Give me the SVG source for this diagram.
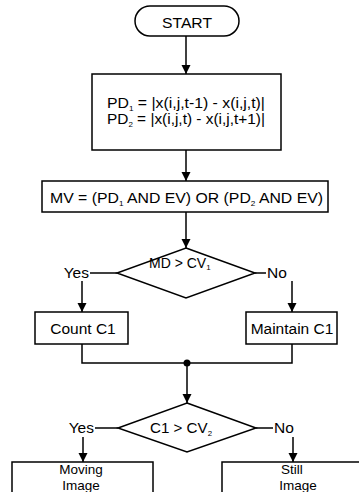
<svg xmlns="http://www.w3.org/2000/svg" width="359" height="492" viewBox="0 0 359 492">
<defs>
<marker id="ah" markerUnits="userSpaceOnUse" markerWidth="10" markerHeight="11" refX="9" refY="5" orient="auto">
<path d="M0,0.5 L9,5 L0,9.5 Z" fill="#000"/>
</marker>
<style>
.s{fill:#fff;stroke:#000;stroke-width:1.5}
.c{fill:none;stroke:#000;stroke-width:1.5}
.a{fill:none;stroke:#000;stroke-width:1.5;marker-end:url(#ah)}
text{font-family:"Liberation Sans",Arial,sans-serif;font-size:15.5px;fill:#000}
.m{text-anchor:middle}
.e{text-anchor:end}
.sub{font-size:8px}
.d{font-size:14px}
.sm{font-size:13.5px}
</style>
</defs>
<rect width="359" height="492" fill="#fff"/>
<g id="connectors">
<line class="a" x1="186" y1="36" x2="186" y2="74"/>
<line class="a" x1="186" y1="150" x2="186" y2="181"/>
<line class="a" x1="186" y1="212" x2="186" y2="248"/>
<line class="c" x1="90" y1="273" x2="117" y2="273"/>
<line class="c" x1="255" y1="273" x2="266" y2="273"/>
<line class="a" x1="82" y1="281" x2="82" y2="312"/>
<line class="a" x1="292" y1="281" x2="292" y2="312"/>
<polyline class="c" points="82,344 82,363 292,363 292,344"/>
<circle cx="187" cy="363" r="3.5" fill="#000"/>
<line class="a" x1="187" y1="363" x2="187" y2="403"/>
<line class="c" x1="95" y1="428" x2="118" y2="428"/>
<line class="c" x1="256" y1="428" x2="273" y2="428"/>
<line class="a" x1="83" y1="437" x2="83" y2="462"/>
<line class="a" x1="293" y1="437" x2="293" y2="462"/>
</g>
<g id="start">
<rect class="s" x="135" y="6" width="104" height="30" rx="15" ry="15"/>
<text class="m" x="187" y="28" textLength="50" lengthAdjust="spacingAndGlyphs">START</text>
</g>
<g id="pd">
<rect class="s" x="92" y="74" width="189" height="76"/>
<text x="107" y="108" textLength="158" lengthAdjust="spacingAndGlyphs">PD<tspan class="sub" dy="3">1</tspan><tspan dy="-3"> = |x(i,j,t-1) - x(i,j,t)|</tspan></text>
<text x="107" y="124" textLength="158" lengthAdjust="spacingAndGlyphs">PD<tspan class="sub" dy="3">2</tspan><tspan dy="-3"> = |x(i,j,t) - x(i,j,t+1)|</tspan></text>
</g>
<g id="mv">
<rect class="s" x="42" y="181" width="286" height="31"/>
<text x="50" y="203" textLength="273" lengthAdjust="spacingAndGlyphs">MV = (PD<tspan class="sub" dy="3">1</tspan><tspan dy="-3"> AND EV) OR (PD</tspan><tspan class="sub" dy="3">2</tspan><tspan dy="-3"> AND EV)</tspan></text>
</g>
<g id="decision1">
<polygon class="s" points="186,248 255,273 186,298 117,273"/>
<text class="d" x="149" y="268">MD &gt; CV<tspan class="sub" dy="2">1</tspan></text>
<text class="e" x="89" y="278">Yes</text>
<text x="267" y="278">No</text>
</g>
<g id="count">
<rect class="s" x="35" y="312" width="93" height="32"/>
<text class="m" x="83" y="334">Count C1</text>
</g>
<g id="maintain">
<rect class="s" x="246" y="312" width="91" height="32"/>
<text class="m" x="292" y="334">Maintain C1</text>
</g>
<g id="decision2">
<polygon class="s" points="187,403 256,428 187,452 118,428"/>
<text x="150" y="433" textLength="62" lengthAdjust="spacingAndGlyphs">C1 &gt; CV<tspan class="sub" dy="3">2</tspan></text>
<text class="e" x="94" y="433">Yes</text>
<text x="274" y="433">No</text>
</g>
<g id="moving">
<rect class="s" x="12" y="462" width="141" height="40"/>
<text class="m sm" x="81" y="474">Moving</text>
<text class="m sm" x="81" y="490">Image</text>
</g>
<g id="still">
<rect class="s" x="222" y="462" width="150" height="40"/>
<text class="m sm" x="292" y="474">Still</text>
<text class="m sm" x="298" y="490">Image</text>
</g>
</svg>
